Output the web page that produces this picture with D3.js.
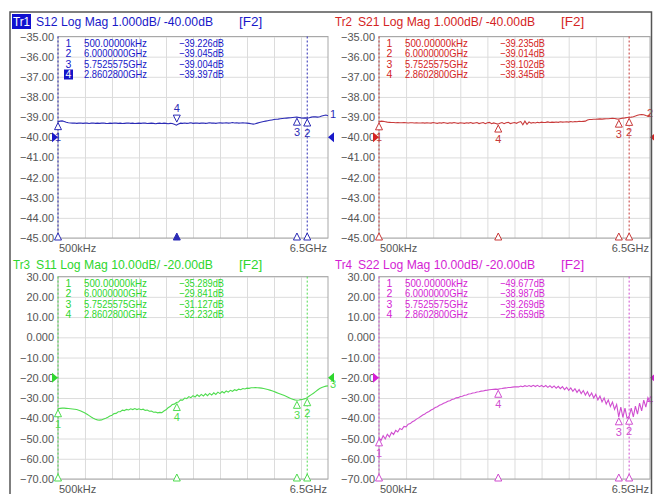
<!DOCTYPE html>
<html lang="en">
<head>
<meta charset="utf-8">
<title>VNA 4-trace display</title>
<script src="https://cdn.jsdelivr.net/npm/d3@7"></script>
<style>
  body { margin: 0; background: #fff; }
  svg { display: block; font-family: "Liberation Sans", Arial, sans-serif; }
</style>
</head>
<body>
<svg id="vna" width="654" height="494"></svg>
<script>
// sweep points, GHz
const freqGHz = [
  0.0005,0.05,0.10,0.15,0.20,0.25,0.30,0.35,0.40,0.45,
  0.50,0.55,0.60,0.65,0.70,0.75,0.80,0.85,0.90,0.95,
  1.00,1.05,1.10,1.15,1.20,1.25,1.30,1.35,1.40,1.45,
  1.50,1.55,1.60,1.65,1.70,1.75,1.80,1.85,1.90,1.95,
  2.00,2.05,2.10,2.15,2.20,2.25,2.30,2.35,2.40,2.45,
  2.50,2.55,2.60,2.65,2.70,2.75,2.80,2.85,2.90,2.95,
  3.00,3.05,3.10,3.15,3.20,3.25,3.30,3.35,3.40,3.45,
  3.50,3.55,3.60,3.65,3.70,3.75,3.80,3.85,3.90,3.95,
  4.00,4.05,4.10,4.15,4.20,4.25,4.30,4.35,4.40,4.45,
  4.50,4.55,4.60,4.65,4.70,4.75,4.80,4.85,4.90,4.95,
  5.00,5.05,5.10,5.15,5.20,5.25,5.30,5.35,5.40,5.45,
  5.50,5.55,5.60,5.65,5.70,5.75,5.80,5.85,5.90,5.95,
  6.00,6.05,6.10,6.15,6.20,6.25,6.30,6.35,6.40,6.45,
  6.50
];

const s12 = [
  -39.23,-39.20,-39.19,-39.22,-39.26,-39.28,-39.29,-39.30,-39.29,-39.31,
  -39.30,-39.29,-39.31,-39.30,-39.30,-39.32,-39.30,-39.29,-39.31,-39.30,
  -39.31,-39.30,-39.29,-39.31,-39.32,-39.30,-39.31,-39.29,-39.30,-39.31,
  -39.30,-39.32,-39.31,-39.30,-39.29,-39.31,-39.30,-39.32,-39.31,-39.30,
  -39.31,-39.29,-39.30,-39.32,-39.31,-39.30,-39.31,-39.33,-39.31,-39.30,
  -39.32,-39.30,-39.31,-39.33,-39.31,-39.32,-39.35,-39.40,-39.34,-39.30,
  -39.31,-39.29,-39.31,-39.30,-39.28,-39.31,-39.30,-39.29,-39.31,-39.30,
  -39.29,-39.31,-39.30,-39.28,-39.30,-39.29,-39.31,-39.29,-39.28,-39.30,
  -39.29,-39.28,-39.30,-39.29,-39.27,-39.29,-39.28,-39.30,-39.29,-39.28,
  -39.29,-39.30,-39.31,-39.33,-39.35,-39.33,-39.30,-39.27,-39.24,-39.22,
  -39.20,-39.18,-39.16,-39.14,-39.12,-39.11,-39.10,-39.08,-39.07,-39.06,
  -39.05,-39.04,-39.03,-39.02,-39.01,-39.00,-39.02,-39.04,-39.05,-39.04,
  -39.05,-39.03,-39.00,-38.98,-38.99,-39.00,-38.98,-38.95,-38.92,-38.90,
  -38.93
];

const s21 = [
  -39.24,-39.20,-39.21,-39.23,-39.25,-39.26,-39.27,-39.27,-39.28,-39.27,
  -39.28,-39.28,-39.27,-39.28,-39.29,-39.28,-39.28,-39.29,-39.28,-39.29,
  -39.29,-39.28,-39.30,-39.28,-39.29,-39.30,-39.27,-39.29,-39.31,-39.28,
  -39.30,-39.27,-39.29,-39.31,-39.28,-39.30,-39.27,-39.29,-39.31,-39.28,
  -39.29,-39.31,-39.28,-39.30,-39.27,-39.31,-39.29,-39.27,-39.32,-39.29,
  -39.27,-39.33,-39.28,-39.26,-39.33,-39.29,-39.32,-39.35,-39.30,-39.27,
  -39.33,-39.28,-39.26,-39.32,-39.29,-39.27,-39.31,-39.25,-39.22,-39.38,
  -39.20,-39.36,-39.24,-39.30,-39.27,-39.29,-39.26,-39.28,-39.25,-39.27,
  -39.26,-39.24,-39.27,-39.25,-39.26,-39.24,-39.26,-39.23,-39.25,-39.24,
  -39.23,-39.25,-39.22,-39.24,-39.22,-39.23,-39.21,-39.22,-39.21,-39.20,
  -39.14,-39.12,-39.12,-39.11,-39.11,-39.10,-39.09,-39.10,-39.09,-39.08,
  -39.08,-39.07,-39.06,-39.07,-39.09,-39.10,-39.07,-39.05,-39.04,-39.02,
  -39.01,-39.00,-38.98,-38.95,-38.91,-38.88,-38.87,-38.88,-38.92,-38.95,
  -38.90
];

const s11 = [
  -35.3,-35.1,-35.0,-35.0,-35.1,-35.2,-35.3,-35.4,-35.5,-35.7,
  -36.0,-36.4,-36.9,-37.4,-38.0,-38.7,-39.4,-40.0,-40.5,-40.8,
  -40.9,-40.8,-40.4,-40.0,-39.5,-38.9,-38.5,-37.7,-37.6,-36.8,
  -36.8,-36.0,-36.2,-35.6,-35.9,-35.3,-35.7,-35.2,-35.7,-35.3,
  -35.8,-35.5,-36.1,-35.9,-36.5,-36.4,-37.0,-36.9,-37.3,-37.1,
  -37.2,-36.4,-35.8,-34.8,-34.2,-33.2,-33.0,-32.2,-32.0,-30.9,
  -31.0,-30.0,-30.3,-29.3,-29.8,-28.8,-29.5,-28.4,-29.2,-28.2,
  -29.0,-27.9,-28.8,-27.7,-28.5,-27.4,-28.2,-27.1,-27.8,-26.8,
  -27.5,-26.5,-27.1,-26.2,-26.7,-25.9,-26.3,-25.6,-25.9,-25.3,
  -25.5,-25.1,-25.2,-24.9,-24.9,-24.8,-24.9,-25.0,-25.1,-25.3,
  -25.5,-25.8,-26.1,-26.4,-26.8,-27.2,-27.6,-28.0,-28.4,-28.8,
  -29.2,-29.7,-30.2,-30.6,-30.9,-31.1,-31.0,-30.8,-30.6,-30.3,
  -29.8,-29.0,-28.3,-27.6,-26.8,-26.0,-25.3,-24.8,-24.4,-24.1,
  -24.0
];

const s22 = [
  -49.7,-51.0,-48.6,-50.2,-47.9,-49.2,-47.0,-48.0,-46.0,-46.8,
  -45.0,-45.6,-44.0,-44.2,-42.9,-42.6,-41.7,-41.2,-40.4,-39.8,
  -39.1,-38.4,-37.9,-37.1,-36.6,-35.9,-35.4,-34.7,-34.3,-33.6,
  -33.2,-32.6,-32.2,-31.6,-31.3,-30.7,-30.5,-29.9,-29.8,-29.2,
  -29.1,-28.6,-28.5,-28.0,-27.9,-27.5,-27.4,-27.0,-26.9,-26.6,
  -26.5,-26.2,-26.1,-25.9,-25.8,-25.7,-25.6,-25.7,-25.4,-25.3,
  -25.1,-25.0,-24.8,-24.8,-24.6,-24.5,-24.4,-24.5,-24.1,-24.4,
  -23.9,-24.3,-23.8,-24.3,-23.7,-24.3,-23.7,-24.4,-23.8,-24.5,
  -23.8,-24.7,-23.9,-24.9,-24.0,-25.1,-24.2,-25.4,-24.4,-25.8,
  -24.7,-26.2,-25.0,-26.7,-25.4,-27.2,-25.8,-27.8,-26.3,-28.5,
  -26.9,-29.2,-27.5,-30.0,-28.2,-30.9,-29.0,-31.9,-29.9,-33.0,
  -30.9,-34.2,-32.0,-35.6,-33.2,-39.3,-34.5,-39.5,-35.0,-40.0,
  -39.0,-35.0,-39.3,-34.0,-38.0,-32.5,-36.3,-31.0,-34.5,-29.8,
  -32.0
];

// marker readouts
const markerNums = ["1", "2", "3", "4"];
const markerFreqGHz = [0.0005, 6.0, 5.7525575, 2.86028];
const markerFreqText = ["500.00000kHz", "6.0000000GHz", "5.7525575GHz", "2.8602800GHz"];
const s12Markers = [-39.226, -39.045, -39.004, -39.397];
const s21Markers = [-39.235, -39.014, -39.102, -39.345];
const s11Markers = [-35.289, -29.841, -31.127, -32.232];
const s22Markers = [-49.677, -38.987, -39.269, -25.659];

const topTicks = [-35, -36, -37, -38, -39, -40, -41, -42, -43, -44, -45];
const bottomTicks = [30, 20, 10, 0, -10, -20, -30, -40, -50, -60, -70];
const xGridGHz = [0.65, 1.30, 1.95, 2.60, 3.25, 3.90, 4.55, 5.20, 5.85];
const xEndLabels = ["500kHz", "6.5GHz"];
const traceNames = ["Tr1", "Tr2", "Tr3", "Tr4"];
const traceTitles = [
  "S12 Log Mag 1.000dB/ -40.00dB",
  "S21 Log Mag 1.000dB/ -40.00dB",
  "S11 Log Mag 10.00dB/ -20.00dB",
  "S22 Log Mag 10.00dB/ -20.00dB"
];
const refLevels = [-40, -40, -20, -20];

const svg = d3.select("#vna");
const fmtTick = d3.format(".4r");
const fmtVal = d3.format(".3f");

const panels = [
  { data: s12, mk: s12Markers, ticks: topTicks, col: "#2b2bb5", tcol: "#1818c8",
    x0: 58, x1: 328, y0: 36.5, y1: 238, tx: 12, ty: 21.5, active: true },
  { data: s21, mk: s21Markers, ticks: topTicks, col: "#c83a3a", tcol: "#d42424",
    x0: 379, x1: 650, y0: 36.5, y1: 238, tx: 334, ty: 21.5, active: false },
  { data: s11, mk: s11Markers, ticks: bottomTicks, col: "#4fdc4f", tcol: "#2ed62e",
    x0: 58, x1: 328, y0: 276.6, y1: 479, tx: 12, ty: 264.5, active: false },
  { data: s22, mk: s22Markers, ticks: bottomTicks, col: "#d04ed0", tcol: "#d41ed4",
    x0: 379, x1: 650, y0: 276.6, y1: 479, tx: 334, ty: 264.5, active: false }
];

function triUp(x, y, s) { return `M${x},${y}L${x - s / 2},${y + s}L${x + s / 2},${y + s}Z`; }
function triDown(x, y, s) { return `M${x},${y}L${x - s / 2},${y - s}L${x + s / 2},${y - s}Z`; }

panels.forEach((p, pi) => {
  const x = d3.scaleLinear().domain([freqGHz[0], freqGHz[freqGHz.length - 1]]).range([p.x0, p.x1]);
  const y = d3.scaleLinear().domain(d3.extent(p.ticks)).range([p.y1, p.y0]);
  const g = svg.append("g");
  const w = p.x1 - p.x0, h = p.y1 - p.y0;

  // vertical grid
  g.append("g")
    .attr("transform", `translate(0,${p.y1})`)
    .call(d3.axisBottom(x).tickValues(xGridGHz).tickSize(-h).tickFormat(""))
    .call(s => s.select(".domain").remove())
    .selectAll("line").attr("stroke", "#dcdcdc");

  // horizontal grid + tick labels
  const ya = g.append("g")
    .attr("transform", `translate(${p.x0},0)`)
    .call(d3.axisLeft(y).tickValues(p.ticks).tickSize(-w).tickPadding(4).tickFormat(fmtTick));
  ya.select(".domain").remove();
  ya.selectAll("line").attr("stroke", "#dcdcdc");
  ya.selectAll("text").attr("fill", "#555").attr("font-size", 11)
    .attr("font-family", "Liberation Sans, Arial, sans-serif");

  g.append("rect").attr("x", p.x0).attr("y", p.y0).attr("width", w).attr("height", h)
    .attr("fill", "none").attr("stroke", "#a8a8a8");

  // start/stop labels
  g.selectAll("text.xl").data(xEndLabels).join("text").attr("class", "xl")
    .attr("x", (d, i) => i ? p.x1 - 1 : p.x0 + 1)
    .attr("y", p.y1 + 10).attr("dy", "0.35em")
    .attr("text-anchor", (d, i) => i ? "end" : "start")
    .attr("font-size", 11).attr("fill", "#555").text(d => d);

  // dotted lines at markers 1 and 2
  [0, 1].forEach(k => {
    g.append("line").attr("x1", x(markerFreqGHz[k])).attr("x2", x(markerFreqGHz[k]))
      .attr("y1", p.y0).attr("y2", p.y1)
      .attr("stroke", p.col).attr("stroke-dasharray", "2,2").attr("stroke-width", 1);
  });

  // trace
  g.append("path").datum(p.data)
    .attr("fill", "none").attr("stroke", p.col).attr("stroke-width", 1.1)
    .attr("d", d3.line().x((d, i) => x(freqGHz[i])).y(d => y(d)));

  // trace-end label
  g.append("text").attr("x", Math.min(p.x1 + 2, 647)).attr("y", y(p.data[p.data.length - 1]) - 2)
    .attr("dy", "0.35em").attr("font-size", 11).attr("fill", p.col).text(pi + 1);

  // markers on trace
  markerFreqGHz.forEach((f, k) => {
    const mx = x(f), my = y(p.mk[k]);
    const above = p.active && k === 3;
    g.append("path").attr("d", above ? triDown(mx, my - 3, 7) : triUp(mx, my + 1, 7))
      .attr("fill", "#fff").attr("stroke", p.col).attr("stroke-width", 1);
    g.append("text").attr("x", mx).attr("y", above ? my - 17 : my + 15)
      .attr("dy", "0.35em").attr("text-anchor", "middle").attr("font-size", 11)
      .attr("fill", p.col).text(markerNums[k]);
    // stimulus markers along the bottom
    g.append("path").attr("d", triUp(mx, p.y1 - 5, 7))
      .attr("stroke", p.col).attr("stroke-width", 1)
      .attr("fill", above ? p.col : "#fff");
  });

  // reference level arrows
  const ry = y(refLevels[pi]);
  g.append("path").attr("d", `M${p.x0},${ry}L${p.x0 - 6},${ry - 5}L${p.x0 - 6},${ry + 5}Z`).attr("fill", p.tcol);
  g.append("path").attr("d", `M${p.x1},${ry}L${p.x1 + 6},${ry - 5}L${p.x1 + 6},${ry + 5}Z`).attr("fill", p.tcol);

  // marker table
  const tb = g.append("g").attr("font-size", 10.5).attr("fill", p.tcol);
  markerNums.forEach((n, k) => {
    const ty = p.y0 + 6.5 + k * 10.5;
    if (p.active && k === 3) {
      tb.append("rect").attr("x", p.x0 + 6).attr("y", ty - 5).attr("width", 9).attr("height", 10).attr("fill", "#1414c8");
    }
    tb.append("text").attr("x", p.x0 + 10.5).attr("y", ty).attr("dy", "0.35em").attr("text-anchor", "middle")
      .attr("fill", p.active && k === 3 ? "#fff" : p.tcol).text(n);
    tb.append("text").attr("x", p.x0 + 26).attr("y", ty).attr("dy", "0.35em")
      .attr("textLength", 63).attr("lengthAdjust", "spacingAndGlyphs").text(markerFreqText[k]);
    tb.append("text").attr("x", p.x0 + 121).attr("y", ty).attr("dy", "0.35em")
      .attr("textLength", 45).attr("lengthAdjust", "spacingAndGlyphs")
      .text(fmtVal(p.mk[k]) + "dB");
  });

  // title
  const tg = g.append("g").attr("font-size", 13.5).attr("fill", p.tcol);
  if (p.active) {
    tg.append("rect").attr("x", p.tx).attr("y", p.ty - 7.5).attr("width", 19).attr("height", 15).attr("fill", "#1010d0");
  }
  tg.append("text").attr("x", p.tx + 1).attr("y", p.ty).attr("dy", "0.35em")
    .attr("textLength", 17).attr("lengthAdjust", "spacingAndGlyphs")
    .attr("fill", p.active ? "#fff" : p.tcol).text(traceNames[pi]);
  tg.append("text").attr("x", p.tx + 24).attr("y", p.ty).attr("dy", "0.35em")
    .attr("textLength", 177).attr("lengthAdjust", "spacingAndGlyphs").text(traceTitles[pi]);
  tg.append("text").attr("x", p.tx + 227).attr("y", p.ty).attr("dy", "0.35em").text("[F2]");
});

// instrument window border
svg.append("path").attr("d", "M10,494V12H651.5V494").attr("fill", "none")
  .attr("stroke", "#555").attr("stroke-width", 1.5);
</script>
</body>
</html>
